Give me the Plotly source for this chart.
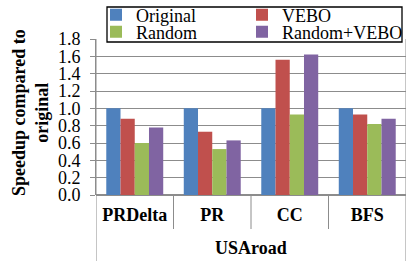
import plotly.graph_objects as go

categories = ["PRDelta", "PR", "CC", "BFS"]
group_label = "USAroad"
series_names = ["Original", "VEBO", "Random", "Random+VEBO"]
original = [1.0, 1.0, 1.0, 1.0]
vebo = [0.88, 0.73, 1.56, 0.93]
random_ = [0.60, 0.53, 0.93, 0.82]
random_vebo = [0.78, 0.63, 1.62, 0.88]
y_ticks = [0.0, 0.2, 0.4, 0.6, 0.8, 1.0, 1.2, 1.4, 1.6, 1.8]

colors = ["#4F81BD", "#C0504D", "#9BBB59", "#8064A2"]
values = [original, vebo, random_, random_vebo]
legend_ids = ["legend", "legend2", "legend3", "legend4"]

FONT = '"Liberation Serif"'
GRID = "#8c8c8c"

fig = go.Figure()
for name, vals, col, lg in zip(series_names, values, colors, legend_ids):
    fig.add_trace(go.Bar(x=categories, y=vals, name=name, marker_color=col,
                         marker_line_width=0, legend=lg))

W, H = 407, 261
ml, mr, mt, mb = 96, 1, 39, 66
plot_w = W - ml - mr
plot_h = H - mt - mb


def px_x(px):
    return (px - ml) / plot_w


def px_y(py):
    return (H - mb - py) / plot_h


shapes = []
for i in range(len(categories) - 1):
    shapes.append(dict(type="line", xref="x", yref="paper", x0=i + 0.5, x1=i + 0.5,
                       y0=0, y1=px_y(229), line=dict(color=GRID, width=1)))
for xv in (-0.5, len(categories) - 0.5):
    shapes.append(dict(type="line", xref="x", yref="paper", x0=xv, x1=xv,
                       y0=1, y1=px_y(H + 5), line=dict(color=GRID, width=1)))
# legend frame
shapes.append(dict(type="rect", xref="paper", yref="paper", layer="above",
                   x0=px_x(107), x1=px_x(402), y0=px_y(42), y1=px_y(7),
                   fillcolor="white", line=dict(color="black", width=1.3)))

legend_common = dict(orientation="h", xanchor="left", yanchor="middle",
                     font=dict(family=FONT, size=18, color="black"),
                     bgcolor="rgba(0,0,0,0)", borderwidth=0, itemwidth=30)
col_x = [96, 242, 96, 242]
row_y = [15, 15, 32, 32]
legend_layout = {lg: dict(x=px_x(cx), y=px_y(ry), **legend_common)
                 for lg, cx, ry in zip(legend_ids, col_x, row_y)}

fig.update_layout(
    width=W, height=H, autosize=False,
    margin=dict(l=ml, r=mr, t=mt, b=mb, pad=0, autoexpand=False),
    paper_bgcolor="white", plot_bgcolor="white",
    font=dict(family=FONT, size=18, color="black"),
    barmode="group", bargap=0.265, bargroupgap=0,
    showlegend=True,
    **legend_layout,
    xaxis=dict(type="category", showline=False, ticks="", showgrid=False,
               tickfont=dict(family=FONT, size=18, weight="bold", color="black"),
               ticklabelstandoff=7, range=[-0.5, len(categories) - 0.5]),
    yaxis=dict(range=[0, 1.8], tickvals=y_ticks, tickformat=".1f",
               showgrid=True, gridcolor=GRID, gridwidth=1,
               ticks="outside", ticklen=5, tickcolor=GRID,
               showline=True, linecolor=GRID, zeroline=True, zerolinecolor=GRID,
               tickfont=dict(family=FONT, size=18, color="black"),
               ticklabelstandoff=6),
    shapes=shapes,
    annotations=[
        dict(text="<b>Speedup compared to<br>original</b>", textangle=-90,
             xref="paper", yref="paper", x=px_x(30), y=px_y(113),
             xanchor="center", yanchor="middle", showarrow=False,
             font=dict(family=FONT, size=18, color="black")),
        dict(text="<b>" + group_label + "</b>", xref="paper", yref="paper",
             x=0.5, y=px_y(248), xanchor="center", yanchor="middle",
             showarrow=False, font=dict(family=FONT, size=18, color="black")),
    ],
)

fig.write_html("out.html", config={"displayModeBar": False},
               post_script="document.body.style.margin='0px';document.body.style.padding='0px';")
